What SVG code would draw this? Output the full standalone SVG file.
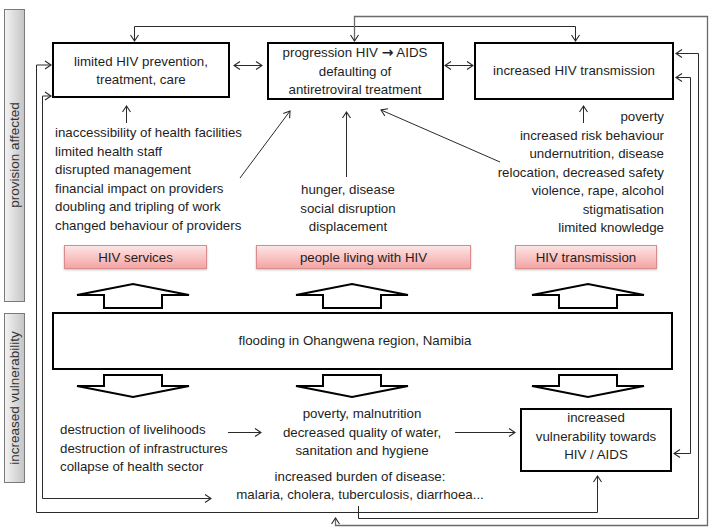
<svg xmlns="http://www.w3.org/2000/svg" width="715" height="528" viewBox="0 0 715 528">
<style>
text{font-family:"Liberation Sans",Arial,sans-serif;font-size:13.3px;fill:#1e1e1e}
.c{text-anchor:middle}
.r{text-anchor:end}
.box{fill:#fff;stroke:#000;stroke-width:2}
.blk{fill:#fff;stroke:#000;stroke-width:2;stroke-linejoin:miter}
.pink{fill:url(#pg);stroke:#d98c8c;stroke-width:1}
.side{fill:url(#sg);stroke:#7a7a7a;stroke-width:1}
.ln{fill:none;stroke:#2a2a2a;stroke-width:1}
.lg{fill:none;stroke:#6a6a6a;stroke-width:1.3}
.a1{marker-end:url(#ah)}
.a2{marker-start:url(#ah);marker-end:url(#ah)}
</style>
<defs>
<linearGradient id="pg" x1="0" y1="0" x2="0" y2="1">
<stop offset="0" stop-color="#fde6e6"/>
<stop offset="1" stop-color="#f4a3a3"/>
</linearGradient>
<linearGradient id="sg" x1="0" y1="0" x2="1" y2="0">
<stop offset="0" stop-color="#f4f4f4"/>
<stop offset="1" stop-color="#c4c4c4"/>
</linearGradient>
<filter id="sh" x="-5%" y="-20%" width="110%" height="150%">
<feDropShadow dx="0" dy="1" stdDeviation="1" flood-color="#000" flood-opacity="0.25"/>
</filter>
<marker id="ah" markerUnits="userSpaceOnUse" markerWidth="10" markerHeight="10" viewBox="0 0 10 10" refX="7" refY="5" orient="auto-start-reverse">
<path d="M1,1 L7,5 L1,9" fill="none" stroke="#2a2a2a" stroke-width="1.1"/>
</marker>
</defs>
<rect width="715" height="528" fill="#fff"/>

<g id="side-provision">
<rect class="side" x="4.5" y="9.5" width="20" height="292"/>
<text class="c" transform="translate(19,155) rotate(-90)" style="font-size:13.5px;fill:#333">provision affected</text>
</g>
<g id="side-vulnerability">
<rect class="side" x="4.5" y="313.5" width="20" height="169"/>
<text class="c" transform="translate(19,398) rotate(-90)" style="font-size:13.5px;fill:#333">increased vulnerability</text>
</g>

<g id="connectors">
<path class="ln a2" d="M51,65 H36.5 V512.5 H597.5 V476"/>
<path class="ln a2" d="M51,96 H42.5 V498.5 H211"/>
<path class="ln a2" d="M134.5,41 V26.5 H575.5 V41"/>
<path class="lg a2" d="M335.5,518 V525.5 H707.5 V16.5 H354.5 V41"/>
<path class="ln a1" d="M358.5,506 V518.5 H698.5 V53.5 H676"/>
<path class="ln a2" d="M676,77.5 H690.5 V453.5 H674"/>
<path class="ln a2" d="M234,65.5 H262"/>
<path class="ln a2" d="M445,65.5 H473"/>
<path class="ln a1" d="M126.5,123 V106"/>
<path class="ln a1" d="M583.5,123 V106"/>
<path class="ln a1" d="M346.5,177 V112"/>
<path class="ln a1" d="M240,178 L290,111"/>
<path class="ln a1" d="M500,162 L381,110"/>
<path class="ln a1" d="M228,432.5 H261"/>
<path class="ln a1" d="M455,432.5 H515"/>
</g>

<g id="n-limited">
<rect class="box" x="53" y="43" width="176" height="54"/>
<text class="c" x="141" y="66">limited HIV prevention,</text>
<text class="c" x="141" y="84">treatment, care</text>
</g>
<g id="n-progression">
<rect class="box" x="268" y="43" width="175" height="56"/>
<text class="c" x="355" y="57">progression HIV <tspan style="font-family:'DejaVu Sans',sans-serif;font-weight:bold;font-size:14px">→</tspan> AIDS</text>
<text class="c" x="355" y="76">defaulting of</text>
<text class="c" x="355" y="94">antiretroviral treatment</text>
</g>
<g id="n-transmission">
<rect class="box" x="475" y="43" width="198" height="56"/>
<text class="c" x="574" y="75">increased HIV transmission</text>
</g>

<g id="t-services-factors">
<text x="55" y="137">inaccessibility of health facilities</text>
<text x="55" y="155.5">limited health staff</text>
<text x="55" y="174">disrupted management</text>
<text x="55" y="192.5">financial impact on providers</text>
<text x="55" y="211">doubling and tripling of work</text>
<text x="55" y="229.5">changed behaviour of providers</text>
</g>
<g id="t-plhiv-factors">
<text class="c" x="348" y="194">hunger, disease</text>
<text class="c" x="348" y="212.5">social disruption</text>
<text class="c" x="348" y="231">displacement</text>
</g>
<g id="t-transmission-factors">
<text class="r" x="664" y="121">poverty</text>
<text class="r" x="664" y="139.5">increased risk behaviour</text>
<text class="r" x="664" y="158">undernutrition, disease</text>
<text class="r" x="664" y="176.5">relocation, decreased safety</text>
<text class="r" x="664" y="195">violence, rape, alcohol</text>
<text class="r" x="664" y="213.5">stigmatisation</text>
<text class="r" x="664" y="232">limited knowledge</text>
</g>

<g id="l-services">
<rect class="pink" x="64.5" y="245.5" width="142" height="23" filter="url(#sh)"/>
<text class="c" x="135.5" y="262">HIV services</text>
</g>
<g id="l-plhiv">
<rect class="pink" x="256.5" y="245.5" width="214" height="23" filter="url(#sh)"/>
<text class="c" x="363.5" y="262">people living with HIV</text>
</g>
<g id="l-transmission">
<rect class="pink" x="515.5" y="245.5" width="141" height="23" filter="url(#sh)"/>
<text class="c" x="586" y="262">HIV transmission</text>
</g>

<g id="block-arrows">
<polygon class="blk" points="77,295 133,284 189,295 162,295 162,308 104,308 104,295"/>
<polygon class="blk" points="296,295 352,284 408,295 381,295 381,308 323,308 323,295"/>
<polygon class="blk" points="532,295 588,284 644,295 617,295 617,308 559,308 559,295"/>
<polygon class="blk" points="77,386 133,397 189,386 162,386 162,375 104,375 104,386"/>
<polygon class="blk" points="296,386 352,397 408,386 381,386 381,375 323,375 323,386"/>
<polygon class="blk" points="532,386 588,397 644,386 617,386 617,375 559,375 559,386"/>
</g>

<g id="n-flooding">
<rect class="box" x="53" y="313" width="619" height="56"/>
<text class="c" x="355" y="345">flooding in Ohangwena region, Namibia</text>
</g>

<g id="t-destruction">
<text x="60" y="434">destruction of livelihoods</text>
<text x="60" y="452.5">destruction of infrastructures</text>
<text x="60" y="471">collapse of health sector</text>
</g>
<g id="t-poverty">
<text class="c" x="362" y="418">poverty, malnutrition</text>
<text class="c" x="362" y="436.5">decreased quality of water,</text>
<text class="c" x="362" y="455">sanitation and hygiene</text>
</g>
<g id="t-burden">
<text class="c" x="360" y="481">increased burden of disease:</text>
<text class="c" x="360" y="499">malaria, cholera, tuberculosis, diarrhoea...</text>
</g>
<g id="n-vulnerability">
<rect class="box" x="521" y="409" width="150" height="62"/>
<text class="c" x="596" y="422">increased</text>
<text class="c" x="596" y="441">vulnerability towards</text>
<text class="c" x="596" y="459">HIV / AIDS</text>
</g>
</svg>
